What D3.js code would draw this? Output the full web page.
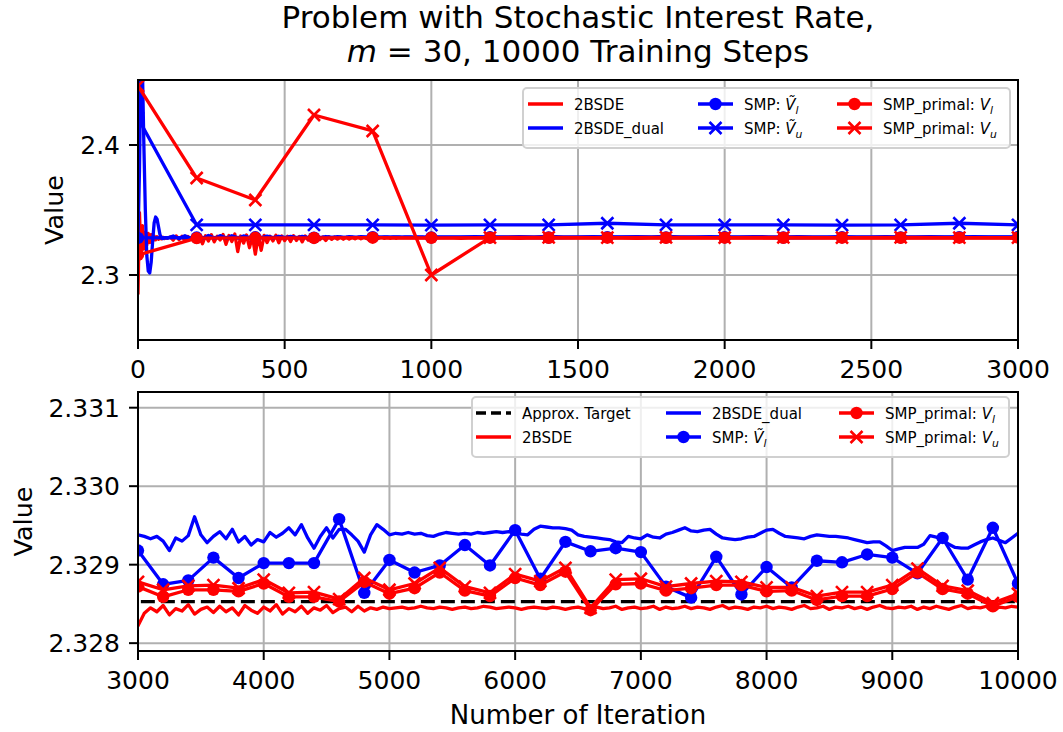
<!DOCTYPE html>
<html>
<head>
<meta charset="utf-8">
<script src="https://cdn.jsdelivr.net/npm/d3@7"></script>
<style>
  body { margin: 0; background: #fff; }
  text { font-family: "DejaVu Sans", sans-serif; fill: #000; }
</style>
</head>
<body>
<svg id="chart" width="1063" height="732"></svg>
<script>
// ---- data -------------------------------------------------------------
// 2BSDE / 2BSDE_dual losses are logged in three stretches with different steps
const bsdeEarly = [2.2850, 2.3480, 2.3150, 2.3380, 2.3200, 2.3330, 2.3230, 2.3320, 2.3250, 2.3310,
  2.3260, 2.3300, 2.3270, 2.3295, 2.3275, 2.3292, 2.3278, 2.3290, 2.3280, 2.3288, 2.3282]
const bsdeMid = [2.3292, 2.3268, 2.3301, 2.3272, 2.3298, 2.3260, 2.3296, 2.3275, 2.3305, 2.3266,
  2.3300, 2.3240, 2.3302, 2.3262, 2.3310, 2.3255, 2.3298, 2.3270, 2.3312, 2.3236,
  2.3304, 2.3258, 2.3315, 2.3180, 2.3300, 2.3245, 2.3308, 2.3210, 2.3296, 2.3160,
  2.3300, 2.3190, 2.3305, 2.3250, 2.3298, 2.3262, 2.3306, 2.3248, 2.3300, 2.3265,
  2.3298, 2.3258, 2.3302, 2.3266, 2.3296, 2.3255, 2.3300, 2.3268, 2.3294, 2.3270,
  2.3296, 2.3272, 2.3293, 2.3266, 2.3295, 2.3274, 2.3292, 2.3276, 2.3291, 2.3275,
  2.3290, 2.3277, 2.3289, 2.3278, 2.3290, 2.3279, 2.3288, 2.3280, 2.3288, 2.3280,
  2.3287, 2.3281, 2.3287, 2.3281, 2.3286, 2.3282, 2.3286, 2.3282, 2.3286, 2.3283,
  2.3285, 2.3283, 2.3285, 2.3283, 2.3285, 2.3283, 2.3285, 2.3284, 2.3285, 2.3283]
const bsdeLate = [2.3286, 2.3282, 2.3285, 2.3283, 2.3284, 2.3282, 2.3285, 2.3283, 2.3284, 2.3283,
  2.3285, 2.3283, 2.3284, 2.3282, 2.3284, 2.3283, 2.3285, 2.3283, 2.3284, 2.3283,
  2.32845, 2.3283, 2.3284, 2.32835, 2.3284, 2.3283, 2.32845, 2.32835, 2.3284, 2.3283,
  2.32845, 2.32835, 2.3284, 2.3283, 2.32845, 2.32835, 2.3284, 2.3283, 2.32835, 2.32822,
  2.32838, 2.32845, 2.32840, 2.32848, 2.32836, 2.32844, 2.32841, 2.32849, 2.32837, 2.32843,
  2.32846, 2.32839, 2.32847, 2.32840, 2.32845, 2.32836, 2.32848, 2.32842, 2.32838, 2.32846,
  2.32841, 2.32849, 2.32837, 2.32844, 2.32840, 2.32847, 2.32838, 2.32845, 2.32842, 2.32848,
  2.32839, 2.32844, 2.32846, 2.32840, 2.32847, 2.32841, 2.32845, 2.32843, 2.32846, 2.32844,
  2.32845, 2.32846, 2.32844, 2.32845, 2.32847, 2.32845, 2.32844, 2.32846, 2.32845, 2.32843,
  2.32845, 2.32846, 2.32844, 2.32845, 2.32847, 2.32846, 2.32844, 2.32845, 2.32846, 2.32845,
  2.32843, 2.32845, 2.32846, 2.32845, 2.32844, 2.32846, 2.32845, 2.32843, 2.32845, 2.32846,
  2.32844, 2.32845, 2.32846, 2.32844, 2.32845, 2.32847, 2.32843, 2.32845, 2.32846, 2.32844,
  2.32845, 2.32847, 2.32843, 2.32846, 2.32844, 2.32845, 2.32847, 2.32844, 2.32846, 2.32845,
  2.32843, 2.32846, 2.32848, 2.32844, 2.32846, 2.32845, 2.32843, 2.32846, 2.32845, 2.32847,
  2.32844, 2.32846, 2.32845, 2.32843, 2.32846, 2.32848, 2.32844, 2.32845, 2.32847, 2.32843,
  2.32846, 2.32845, 2.32847, 2.32844, 2.32846, 2.32843, 2.32846, 2.32848, 2.32845, 2.32844,
  2.32846, 2.32845, 2.32847, 2.32843, 2.32846, 2.32844, 2.32847, 2.32845, 2.32843, 2.32846,
  2.32848, 2.32844, 2.32846, 2.32845, 2.32847, 2.32844, 2.32846, 2.32845, 2.32847, 2.32846]

const dualEarly = [2.3285, 2.3800, 2.4700, 2.4600, 2.4000, 2.3500, 2.3150, 2.3030, 2.3015, 2.3100,
  2.3260, 2.3400, 2.3446, 2.3430, 2.3370, 2.3310, 2.3283, 2.3280, 2.3286, 2.3287, 2.3284]
const dualMid = [2.3292, 2.3300, 2.3290, 2.3280, 2.3292, 2.3302, 2.3292, 2.3281, 2.3291, 2.3303,
  2.3293, 2.3282, 2.3290, 2.3304, 2.3294, 2.3283, 2.3290, 2.3303, 2.3294, 2.3284,
  2.3290, 2.3302, 2.3294, 2.3284, 2.3290, 2.3301, 2.3294, 2.3285, 2.3290, 2.3300,
  2.3294, 2.3286, 2.3291, 2.3299, 2.3294, 2.3286, 2.3291, 2.3298, 2.3294, 2.3287,
  2.3291, 2.3297, 2.3294, 2.3288, 2.3291, 2.3297, 2.3294, 2.3288, 2.3291, 2.3296,
  2.3294, 2.3289, 2.3292, 2.3296, 2.3294, 2.3289, 2.3292, 2.3295, 2.3293, 2.3290,
  2.3292, 2.3295, 2.3293, 2.3290, 2.3292, 2.3295, 2.3293, 2.3291, 2.3292, 2.3294,
  2.3293, 2.3291, 2.3292, 2.3294, 2.3293, 2.3291, 2.3293, 2.3294, 2.3293, 2.3292,
  2.3293, 2.3294, 2.3293, 2.3292, 2.3293, 2.3294, 2.3293, 2.3292, 2.3293, 2.3293]
const dualLate = [2.3294, 2.3293, 2.3295, 2.3294, 2.3293, 2.3295, 2.3294, 2.3296, 2.3294, 2.3293,
  2.3295, 2.3294, 2.3293, 2.3295, 2.3294, 2.3296, 2.3294, 2.3293, 2.3295, 2.3294,
  2.3293, 2.3295, 2.3294, 2.3293, 2.3295, 2.3294, 2.3293, 2.3295, 2.3294, 2.3293,
  2.3295, 2.3294, 2.3293, 2.3295, 2.3294, 2.3293, 2.3295, 2.3294, 2.3293, 2.32938,
  2.32936, 2.32933, 2.32936, 2.32930, 2.32918, 2.32934, 2.32930, 2.32937, 2.32961, 2.32938,
  2.32928, 2.32936, 2.32942, 2.32933, 2.32945, 2.32929, 2.32936, 2.32925, 2.32932, 2.32929,
  2.32941, 2.32935, 2.32940, 2.32947, 2.32938, 2.32951, 2.32934, 2.32921, 2.32936, 2.32947,
  2.32934, 2.32945, 2.32945, 2.32938, 2.32930, 2.32916, 2.32938, 2.32951, 2.32945, 2.32938,
  2.32940, 2.32939, 2.32941, 2.32939, 2.32940, 2.32937, 2.32936, 2.32939, 2.32941, 2.32940,
  2.32939, 2.32940, 2.32939, 2.32941, 2.32940, 2.32941, 2.32942, 2.32941, 2.32942, 2.32941,
  2.32939, 2.32938, 2.32945, 2.32949, 2.32948, 2.32947, 2.32947, 2.32946, 2.32944, 2.32938,
  2.32936, 2.32935, 2.32934, 2.32933, 2.32932, 2.32929, 2.32928, 2.32936, 2.32934, 2.32933,
  2.32938, 2.32935, 2.32934, 2.32939, 2.32941, 2.32944, 2.32947, 2.32943, 2.32942, 2.32944,
  2.32945, 2.32939, 2.32934, 2.32933, 2.32932, 2.32933, 2.32935, 2.32936, 2.32940, 2.32944,
  2.32945, 2.32940, 2.32936, 2.32935, 2.32934, 2.32933, 2.32936, 2.32938, 2.32937, 2.32936,
  2.32936, 2.32935, 2.32934, 2.32932, 2.32930, 2.32928, 2.32929, 2.32929, 2.32924, 2.32918,
  2.32920, 2.32922, 2.32922, 2.32922, 2.32926, 2.32937, 2.32935, 2.32932, 2.32926, 2.32922,
  2.32921, 2.32921, 2.32925, 2.32929, 2.32932, 2.32934, 2.32931, 2.32928, 2.32934, 2.32940]

// SMP evaluations every 200 iterations
const smpLower = [2.3285, 2.3288, 2.3290, 2.3287, 2.3291, 2.3289, 2.3290, 2.3288, 2.3291, 2.3289,
  2.3290, 2.3288, 2.3290, 2.3289, 2.3291,
  2.32918, 2.32875, 2.32880, 2.32909, 2.32883, 2.32902, 2.32902, 2.32902, 2.32958, 2.32864,
  2.32906, 2.32890, 2.32899, 2.32925, 2.32899, 2.32944, 2.32882, 2.32929, 2.32917, 2.32921,
  2.32916, 2.32872, 2.32858, 2.32910, 2.32862, 2.32897, 2.32871, 2.32905, 2.32903, 2.32913,
  2.32909, 2.32889, 2.32934, 2.32881, 2.32947, 2.32876]
const smpUpper = [2.4208, 2.3385, 2.3385, 2.3385, 2.3385, 2.3384, 2.3386, 2.3385, 2.3398, 2.3385,
  2.3385, 2.3385, 2.3384, 2.3385, 2.3398, 2.3386]
const primalLower = [2.3154, 2.3284, 2.3286, 2.3285, 2.3287, 2.3286, 2.3287, 2.3286, 2.3287, 2.3286,
  2.3287, 2.3286, 2.3287, 2.3286, 2.3287,
  2.32872, 2.32859, 2.32868, 2.32868, 2.32866, 2.32876, 2.32859, 2.32859, 2.32853, 2.32878,
  2.32863, 2.32870, 2.32890, 2.32867, 2.32860, 2.32883, 2.32874, 2.32891, 2.32842, 2.32875,
  2.32876, 2.32867, 2.32870, 2.32874, 2.32874, 2.32866, 2.32867, 2.32855, 2.32860, 2.32860,
  2.32869, 2.32890, 2.32869, 2.32863, 2.32847, 2.32859]
const primalUpper = [2.4454, 2.3746, 2.3577, 2.4231, 2.4108, 2.3000, 2.3288, 2.3289, 2.3288, 2.3289,
  2.3288, 2.3289, 2.3288, 2.3289, 2.3288,
  2.32878, 2.32868, 2.32873, 2.32874, 2.32870, 2.32881, 2.32864, 2.32865, 2.32856, 2.32883,
  2.32868, 2.32876, 2.32896, 2.32872, 2.32864, 2.32888, 2.32879, 2.32896, 2.32845, 2.32881,
  2.32882, 2.32872, 2.32876, 2.32879, 2.32878, 2.32871, 2.32871, 2.32860, 2.32865, 2.32865,
  2.32874, 2.32895, 2.32873, 2.32867, 2.32851, 2.32863]

const approxTarget = 2.32853

const topXTicks = [0, 500, 1000, 1500, 2000, 2500, 3000]
const topYTicks = [2.3, 2.4]
const botXTicks = [3000, 4000, 5000, 6000, 7000, 8000, 9000, 10000]
const botYTicks = [2.328, 2.329, 2.330, 2.331]

// ---- helpers ------------------------------------------------------------
function stretch(values, start, step) {
  return values.map((v, i) => ({ it: start + i * step, v }))
}
function smpPoints(values) {
  return values.map((v, i) => ({ it: i * 200, v }))
}

const bsde = [].concat(stretch(bsdeEarly, 0, 5), stretch(bsdeMid, 110, 10), stretch(bsdeLate, 1050, 50))
const dual = [].concat(stretch(dualEarly, 0, 5), stretch(dualMid, 110, 10), stretch(dualLate, 1050, 50))

const RED = "#ff0000", BLUE = "#0000ff"
const LW = 3.3

const svg = d3.select("#chart")

function drawMarker(g, kind, x, y, color) {
  if (kind === "o") {
    g.append("circle").attr("cx", x).attr("cy", y).attr("r", 6.2).attr("fill", color)
  } else if (kind === "x") {
    const s = 6
    g.append("path")
      .attr("d", `M${x - s},${y - s}L${x + s},${y + s}M${x - s},${y + s}L${x + s},${y - s}`)
      .attr("stroke", color).attr("stroke-width", 2.6).attr("fill", "none")
  }
}

function labelText(sel, label) {
  // label: array of [text, style] pieces; style: "" | "i" | "sub"
  label.forEach(([t, st]) => {
    const ts = sel.append("tspan").text(t)
    if (st === "i") ts.attr("font-style", "italic")
    if (st === "sub") ts.attr("font-style", "italic").attr("font-size", "0.72em").attr("dy", 4)
  })
}

let clipId = 0
function drawPanel(box, xDomain, yDomain, xTicks, yTicks, yFmt, ylabelX, series, legend) {
  const x = d3.scaleLinear().domain(xDomain).range([box.x0, box.x1])
  const y = d3.scaleLinear().domain(yDomain).range([box.y1, box.y0])
  const g = svg.append("g")

  const id = "clip" + (clipId++)
  svg.append("clipPath").attr("id", id).append("rect")
    .attr("x", box.x0).attr("y", box.y0).attr("width", box.x1 - box.x0).attr("height", box.y1 - box.y0)

  // grid
  g.selectAll("line.gx").data(xTicks).join("line")
    .attr("x1", d => x(d)).attr("x2", d => x(d)).attr("y1", box.y0).attr("y2", box.y1)
    .attr("stroke", "#b0b0b0").attr("stroke-width", 2)
  g.selectAll("line.gy").data(yTicks).join("line")
    .attr("y1", d => y(d)).attr("y2", d => y(d)).attr("x1", box.x0).attr("x2", box.x1)
    .attr("stroke", "#b0b0b0").attr("stroke-width", 2)

  const plot = g.append("g").attr("clip-path", `url(#${id})`)
  series.forEach(s => {
    const line = d3.line().x(d => x(d.it)).y(d => y(d.v))
    const path = plot.append("path").datum(s.data).attr("d", line)
      .attr("fill", "none").attr("stroke", s.color).attr("stroke-width", LW)
      .attr("stroke-linejoin", "round")
    if (s.dash) path.attr("stroke-dasharray", s.dash)
    if (s.marker) {
      s.data.forEach(d => drawMarker(plot, s.marker, x(d.it), y(d.v), s.color))
    }
  })

  // frame
  g.append("rect").attr("x", box.x0).attr("y", box.y0)
    .attr("width", box.x1 - box.x0).attr("height", box.y1 - box.y0)
    .attr("fill", "none").attr("stroke", "#000").attr("stroke-width", 2)

  // axes ticks
  const ax = g.append("g")
  xTicks.forEach(t => {
    ax.append("line").attr("x1", x(t)).attr("x2", x(t)).attr("y1", box.y1).attr("y2", box.y1 + 9)
      .attr("stroke", "#000").attr("stroke-width", 2)
    ax.append("text").attr("x", x(t)).attr("y", box.y1 + 38).attr("text-anchor", "middle")
      .attr("font-size", 25).text(t)
  })
  yTicks.forEach(t => {
    ax.append("line").attr("x1", box.x0 - 9).attr("x2", box.x0).attr("y1", y(t)).attr("y2", y(t))
      .attr("stroke", "#000").attr("stroke-width", 2)
    ax.append("text").attr("x", box.x0 - 18).attr("y", y(t) + 9).attr("text-anchor", "end")
      .attr("font-size", 25).text(yFmt(t))
  })
  g.append("text").attr("transform", `translate(${ylabelX},${(box.y0 + box.y1) / 2}) rotate(-90)`)
    .attr("text-anchor", "middle").attr("font-size", 25.5).text("Value")

  // legend
  const L = legend
  const lg = g.append("g")
  lg.append("rect").attr("x", L.x0).attr("y", L.y0).attr("width", L.x1 - L.x0).attr("height", L.y1 - L.y0)
    .attr("rx", 4).attr("fill", "#fff").attr("fill-opacity", 0.8)
    .attr("stroke", "#d0d0d0").attr("stroke-width", 2)
  L.items.forEach((it, i) => {
    const col = Math.floor(i / 2), row = i % 2
    const hx = L.cols[col], ry = L.rows[row]
    const h = lg.append("line").attr("x1", hx).attr("x2", hx + 35).attr("y1", ry).attr("y2", ry)
      .attr("stroke", it.color).attr("stroke-width", LW)
    if (it.dash) h.attr("stroke-dasharray", it.dash)
    if (it.marker) drawMarker(lg, it.marker, hx + 17.5, ry, it.color)
    const t = lg.append("text").attr("x", hx + 46).attr("y", ry + 5.5).attr("font-size", 15)
    labelText(t, it.label)
  })
  return { x, y }
}

const lblBsde = [["2BSDE", ""]]
const lblDual = [["2BSDE_dual", ""]]
const lblSmpL = [["SMP: ", ""], ["Ṽ", "i"], ["l", "sub"]]
const lblSmpU = [["SMP: ", ""], ["Ṽ", "i"], ["u", "sub"]]
const lblPrimL = [["SMP_primal: ", ""], ["V", "i"], ["l", "sub"]]
const lblPrimU = [["SMP_primal: ", ""], ["V", "i"], ["u", "sub"]]

// ---- top panel ------------------------------------------------------------
drawPanel({ x0: 138, x1: 1018, y0: 80, y1: 340 }, [0, 3000], [2.25, 2.45],
  topXTicks, topYTicks, d3.format(".1f"), 63,
  [
    { data: bsde, color: RED },
    { data: dual, color: BLUE },
    { data: smpPoints(smpLower), color: BLUE, marker: "o" },
    { data: smpPoints(smpUpper), color: BLUE, marker: "x" },
    { data: smpPoints(primalLower), color: RED, marker: "o" },
    { data: smpPoints(primalUpper), color: RED, marker: "x" }
  ],
  {
    x0: 523, x1: 1010, y0: 88, y1: 148, rows: [104, 128], cols: [528, 698, 837],
    items: [
      { label: lblBsde, color: RED },
      { label: lblDual, color: BLUE },
      { label: lblSmpL, color: BLUE, marker: "o" },
      { label: lblSmpU, color: BLUE, marker: "x" },
      { label: lblPrimL, color: RED, marker: "o" },
      { label: lblPrimU, color: RED, marker: "x" }
    ]
  })

// ---- bottom panel ---------------------------------------------------------
drawPanel({ x0: 138, x1: 1018, y0: 392, y1: 651 }, [3000, 10000], [2.3279, 2.3312],
  botXTicks, botYTicks, d3.format(".3f"), 32,
  [
    { data: [{ it: 0, v: approxTarget }, { it: 10000, v: approxTarget }], color: "#000", dash: "14,6" },
    { data: bsde, color: RED },
    { data: dual, color: BLUE },
    { data: smpPoints(smpLower), color: BLUE, marker: "o" },
    { data: smpPoints(primalLower), color: RED, marker: "o" },
    { data: smpPoints(primalUpper), color: RED, marker: "x" }
  ],
  {
    x0: 472, x1: 1009, y0: 397, y1: 457, rows: [413, 437], cols: [476, 666, 839],
    items: [
      { label: [["Approx. Target", ""]], color: "#000", dash: "10,5" },
      { label: lblBsde, color: RED },
      { label: lblDual, color: BLUE },
      { label: lblSmpL, color: BLUE, marker: "o" },
      { label: lblPrimL, color: RED, marker: "o" },
      { label: lblPrimU, color: RED, marker: "x" }
    ]
  })

svg.append("text").attr("x", 578).attr("y", 724).attr("text-anchor", "middle")
  .attr("font-size", 26).text("Number of Iteration")

// ---- title ----------------------------------------------------------------
svg.append("text").attr("x", 578).attr("y", 28).attr("text-anchor", "middle")
  .attr("font-size", 31).text("Problem with Stochastic Interest Rate,")
const t2 = svg.append("text").attr("x", 578).attr("y", 62).attr("text-anchor", "middle").attr("font-size", 31)
labelText(t2, [["m", "i"], [" = 30, 10000 Training Steps", ""]])
</script>
</body>
</html>
